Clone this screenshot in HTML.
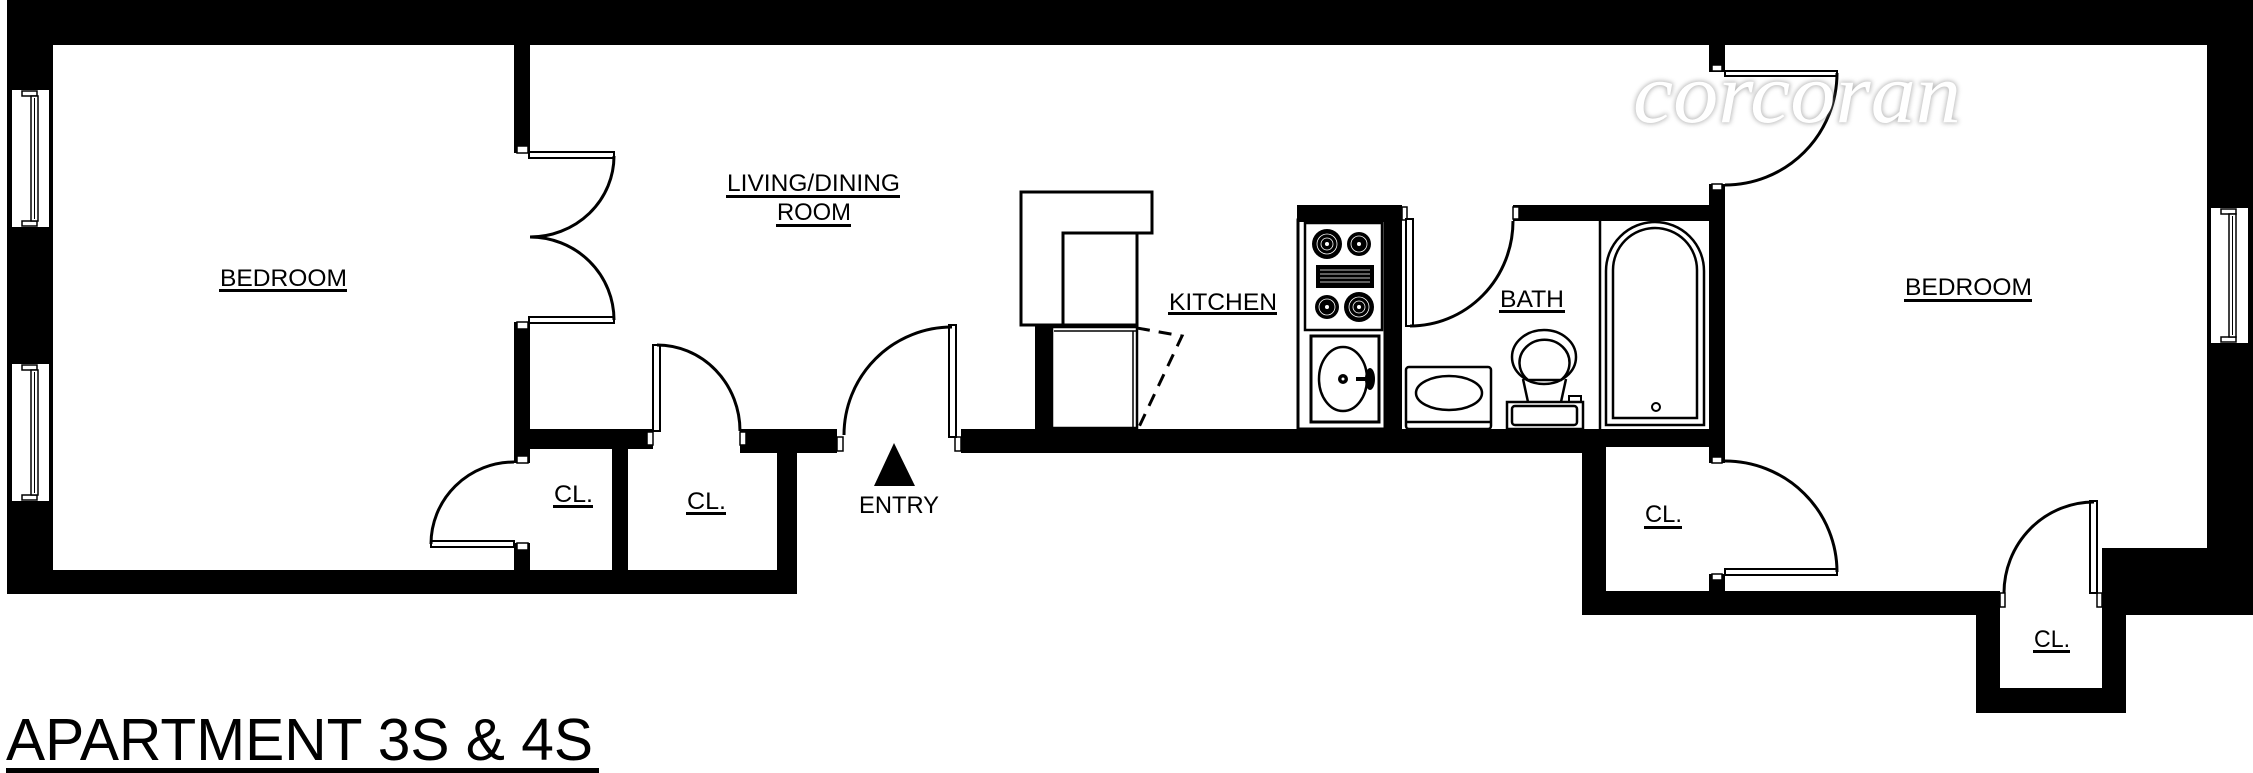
<!DOCTYPE html>
<html>
<head>
<meta charset="utf-8">
<style>
  html,body{margin:0;padding:0;background:#fff;}
  body{width:2253px;height:773px;overflow:hidden;}
  svg{display:block;}
  text{font-family:"Liberation Sans",Arial,sans-serif;fill:#000;}
</style>
</head>
<body>
<svg width="2253" height="773" viewBox="0 0 2253 773" xmlns="http://www.w3.org/2000/svg">
  <defs>
    <filter id="blur" x="-10%" y="-30%" width="120%" height="160%">
      <feGaussianBlur stdDeviation="2.5"/>
    </filter>
  </defs>
  <rect x="0" y="0" width="2253" height="773" fill="#fff"/>

  <!-- ===== WALLS ===== -->
  <g fill="#000">
    <rect x="7" y="0" width="2246" height="45"/>
    <rect x="7" y="0" width="46" height="594"/>
    <rect x="7" y="570" width="790" height="24"/>
    <rect x="777" y="429" width="20" height="165"/>
    <rect x="514" y="429" width="139" height="20"/>
    <rect x="740" y="429" width="97" height="24"/>
    <rect x="612" y="447" width="16" height="123"/>
    <rect x="514" y="45" width="16" height="108"/>
    <rect x="514" y="322" width="16" height="141"/>
    <rect x="514" y="543" width="16" height="27"/>
    <rect x="961" y="429" width="621" height="24"/>
    <rect x="1582" y="429" width="143" height="18"/>
    <rect x="1582" y="429" width="24" height="186"/>
    <rect x="1582" y="591" width="418" height="24"/>
    <rect x="1976" y="591" width="24" height="122"/>
    <rect x="1976" y="688" width="150" height="25"/>
    <rect x="2102" y="548" width="24" height="165"/>
    <rect x="2102" y="548" width="151" height="67"/>
    <rect x="2207" y="0" width="46" height="615"/>
    <rect x="1709" y="45" width="16" height="27"/>
    <rect x="1709" y="184" width="16" height="279"/>
    <rect x="1709" y="574" width="16" height="17"/>
    <rect x="1513" y="205" width="212" height="16"/>
    <rect x="1297" y="205" width="105" height="17"/>
    <rect x="1385" y="205" width="17" height="224"/>
    <rect x="1035" y="325" width="17" height="104"/>
  </g>

  <!-- ===== JAMBS ===== -->
  <g fill="#fff" stroke="#000" stroke-width="1.5">
    <rect x="517" y="146" width="11" height="7"/>
    <rect x="517" y="322" width="11" height="7"/>
    <rect x="517" y="456" width="11" height="7"/>
    <rect x="517" y="543" width="11" height="7"/>
    <rect x="647" y="432" width="6" height="13"/>
    <rect x="740" y="432" width="6" height="13"/>
    <rect x="837" y="437" width="6" height="14"/>
    <rect x="955" y="437" width="6" height="14"/>
    <rect x="1402" y="207" width="5" height="13"/>
    <rect x="1513" y="207" width="6" height="12"/>
    <rect x="1712" y="65" width="10" height="6"/>
    <rect x="1712" y="184" width="10" height="6"/>
    <rect x="1712" y="457" width="10" height="6"/>
    <rect x="1712" y="574" width="10" height="6"/>
    <rect x="2000" y="593" width="5" height="14"/>
    <rect x="2097" y="593" width="5" height="14"/>
  </g>

  <!-- ===== DOOR LEAVES ===== -->
  <g fill="#fff" stroke="#000" stroke-width="2">
    <rect x="529" y="152" width="85" height="6"/>
    <rect x="529" y="317" width="85" height="6"/>
    <rect x="431" y="541" width="83" height="6"/>
    <rect x="653" y="345" width="7" height="86"/>
    <rect x="949" y="325" width="7" height="112"/>
    <rect x="1406" y="219" width="7" height="107"/>
    <rect x="1725" y="71" width="112" height="5"/>
    <rect x="1725" y="569" width="112" height="6"/>
    <rect x="2090" y="501" width="7" height="92"/>
  </g>

  <!-- ===== DOOR ARCS ===== -->
  <g fill="none" stroke="#000" stroke-width="3">
    <path d="M614,156 A84,81 0 0 1 530,237"/>
    <path d="M614,320 A84,83 0 0 0 530,237"/>
    <path d="M431,544 A83,82 0 0 1 514,462"/>
    <path d="M657,345 A83,86 0 0 1 740,431"/>
    <path d="M952,327 A108,108 0 0 0 844,435"/>
    <path d="M1410,326 A103,105 0 0 0 1513,221"/>
    <path d="M1837,73 A112,112 0 0 1 1725,185"/>
    <path d="M1837,572 A112,111 0 0 0 1725,461"/>
    <path d="M2094,502 A90,91 0 0 0 2004,593"/>
  </g>

  <!-- ===== WINDOWS ===== -->
  <g stroke="#000" stroke-width="2" fill="#fff">
    <rect x="11" y="89" width="39" height="139"/>
    <rect x="22" y="91" width="15" height="5" stroke-width="1.5"/>
    <rect x="22" y="221" width="15" height="5" stroke-width="1.5"/>
    <rect x="31" y="96" width="7" height="125" stroke-width="1.5"/>
    <line x1="34.5" y1="98" x2="34.5" y2="219" stroke-width="1"/>
    <rect x="11" y="363" width="39" height="139"/>
    <rect x="22" y="365" width="15" height="5" stroke-width="1.5"/>
    <rect x="22" y="495" width="15" height="5" stroke-width="1.5"/>
    <rect x="31" y="370" width="7" height="125" stroke-width="1.5"/>
    <line x1="34.5" y1="372" x2="34.5" y2="493" stroke-width="1"/>
    <rect x="2210" y="207" width="39" height="137"/>
    <rect x="2221" y="209" width="15" height="5" stroke-width="1.5"/>
    <rect x="2221" y="337" width="15" height="5" stroke-width="1.5"/>
    <rect x="2229" y="214" width="7" height="123" stroke-width="1.5"/>
    <line x1="2232.5" y1="216" x2="2232.5" y2="335" stroke-width="1"/>
  </g>

  <!-- ===== KITCHEN ===== -->
  <g fill="none" stroke="#000" stroke-width="3">
    <polygon points="1021,192 1152,192 1152,233 1137,233 1137,325 1021,325" fill="#fff"/>
    <path d="M1063,325 V233 H1137"/>
    <rect x="1052" y="327" width="85" height="101" stroke-width="2.5"/>
    <line x1="1054" y1="331" x2="1137" y2="331" stroke-width="1.5"/>
    <line x1="1133" y1="331" x2="1133" y2="427" stroke-width="1.5"/>
    <path d="M1137,328 L1182,336 L1139,427" stroke-dasharray="13,9"/>
  </g>

  <g fill="none" stroke="#000">
    <rect x="1298" y="220" width="87" height="209" stroke-width="3"/>
    <rect x="1305" y="223" width="77" height="107" stroke-width="2.5" fill="#fff"/>
    <rect x="1311" y="336" width="68" height="86" stroke-width="3"/>
    <ellipse cx="1343" cy="379" rx="24" ry="32" stroke-width="2.5"/>
  </g>
  <g>
    <circle cx="1327" cy="244" r="15" fill="#000"/>
    <circle cx="1327" cy="244" r="10" fill="none" stroke="#fff" stroke-width="0.8"/>
    <circle cx="1327" cy="244" r="6" fill="none" stroke="#fff" stroke-width="0.8"/>
    <circle cx="1327" cy="244" r="2" fill="#fff"/>
    <circle cx="1359" cy="244" r="12" fill="#000"/>
    <circle cx="1359" cy="244" r="8" fill="none" stroke="#fff" stroke-width="0.8"/>
    <circle cx="1359" cy="244" r="2" fill="#fff"/>
    <circle cx="1327" cy="307" r="12" fill="#000"/>
    <circle cx="1327" cy="307" r="8" fill="none" stroke="#fff" stroke-width="0.8"/>
    <circle cx="1327" cy="307" r="2" fill="#fff"/>
    <circle cx="1359" cy="307" r="15" fill="#000"/>
    <circle cx="1359" cy="307" r="10" fill="none" stroke="#fff" stroke-width="0.8"/>
    <circle cx="1359" cy="307" r="6" fill="none" stroke="#fff" stroke-width="0.8"/>
    <circle cx="1359" cy="307" r="2" fill="#fff"/>
    <rect x="1316" y="265" width="58" height="23" fill="#000"/>
    <g stroke="#fff" stroke-width="0.8">
      <line x1="1320" y1="270" x2="1370" y2="270"/>
      <line x1="1320" y1="274" x2="1370" y2="274"/>
      <line x1="1320" y1="278" x2="1370" y2="278"/>
      <line x1="1320" y1="282" x2="1370" y2="282"/>
    </g>
    <circle cx="1343" cy="379" r="5" fill="#000"/>
    <circle cx="1343" cy="379" r="1.5" fill="#fff"/>
    <line x1="1356" y1="379" x2="1372" y2="379" stroke="#000" stroke-width="4"/>
    <ellipse cx="1370" cy="379" rx="5" ry="11" fill="#000"/>
  </g>

  <!-- ===== BATH ===== -->
  <g fill="none" stroke="#000" stroke-width="2.5">
    <rect x="1406" y="367" width="85" height="62" rx="3" fill="#fff"/>
    <ellipse cx="1449" cy="393" rx="33" ry="17"/>
    <line x1="1406" y1="422" x2="1491" y2="422"/>
    <ellipse cx="1544" cy="357" rx="32" ry="27"/>
    <path d="M1528,380 A25,23 0 1 1 1561,380 Z"/>
    <line x1="1523" y1="379" x2="1528" y2="402"/>
    <line x1="1566" y1="379" x2="1561" y2="402"/>
    <rect x="1507" y="402" width="76" height="27" fill="#fff"/>
    <rect x="1512" y="406" width="65" height="19" rx="3"/>
    <rect x="1569" y="396" width="12" height="6" stroke-width="2"/>
    <line x1="1600" y1="221" x2="1600" y2="429"/>
    <path d="M1606,425 V271 A49,49 0 0 1 1704,271 V425 Z"/>
    <path d="M1613,418 V270 A42,42 0 0 1 1697,270 V418 Z"/>
    <circle cx="1656" cy="407" r="4" stroke-width="2"/>
  </g>

  <!-- ===== ENTRY ARROW ===== -->
  <polygon points="894,443 874,486 915,486" fill="#000"/>

  <!-- ===== WATERMARK ===== -->
  <g font-style="italic" font-size="86">
    <text x="1633" y="122" textLength="328" lengthAdjust="spacingAndGlyphs" style="font-family:'Liberation Serif',serif;fill:#8a8a8a;stroke:#8a8a8a;stroke-width:2" opacity="0.6" filter="url(#blur)">corcoran</text>
    <text x="1633" y="122" textLength="328" lengthAdjust="spacingAndGlyphs" style="font-family:'Liberation Serif',serif;fill:#fff">corcoran</text>
  </g>

  <!-- ===== LABELS ===== -->
  <g font-size="24">
    <text x="220" y="286" textLength="127" lengthAdjust="spacingAndGlyphs">BEDROOM</text>
    <rect x="219" y="289" width="128" height="3"/>
    <text x="727" y="191" textLength="173" lengthAdjust="spacingAndGlyphs">LIVING/DINING</text>
    <rect x="726" y="195" width="174" height="3"/>
    <text x="777" y="220" textLength="74" lengthAdjust="spacingAndGlyphs">ROOM</text>
    <rect x="776" y="224" width="75" height="3"/>
    <text x="1169" y="310" textLength="108" lengthAdjust="spacingAndGlyphs">KITCHEN</text>
    <rect x="1168" y="312" width="109" height="3"/>
    <text x="1500" y="307" textLength="64" lengthAdjust="spacingAndGlyphs">BATH</text>
    <rect x="1499" y="310" width="66" height="3"/>
    <text x="1905" y="295" textLength="127" lengthAdjust="spacingAndGlyphs">BEDROOM</text>
    <rect x="1904" y="299" width="128" height="3"/>
    <text x="554" y="502" textLength="39" lengthAdjust="spacingAndGlyphs">CL.</text>
    <rect x="553" y="505" width="40" height="3"/>
    <text x="687" y="509" textLength="39" lengthAdjust="spacingAndGlyphs">CL.</text>
    <rect x="686" y="512" width="40" height="3"/>
    <text x="1645" y="522" textLength="37" lengthAdjust="spacingAndGlyphs">CL.</text>
    <rect x="1644" y="526" width="38" height="3"/>
    <text x="2034" y="647" textLength="36" lengthAdjust="spacingAndGlyphs">CL.</text>
    <rect x="2033" y="650" width="37" height="3"/>
    <text x="859" y="513" textLength="80" lengthAdjust="spacingAndGlyphs">ENTRY</text>
  </g>

  <!-- ===== TITLE ===== -->
  <text x="6" y="760" font-size="59" textLength="587" lengthAdjust="spacingAndGlyphs">APARTMENT 3S &amp; 4S</text>
  <rect x="6" y="768" width="593" height="5"/>
</svg>
</body>
</html>
